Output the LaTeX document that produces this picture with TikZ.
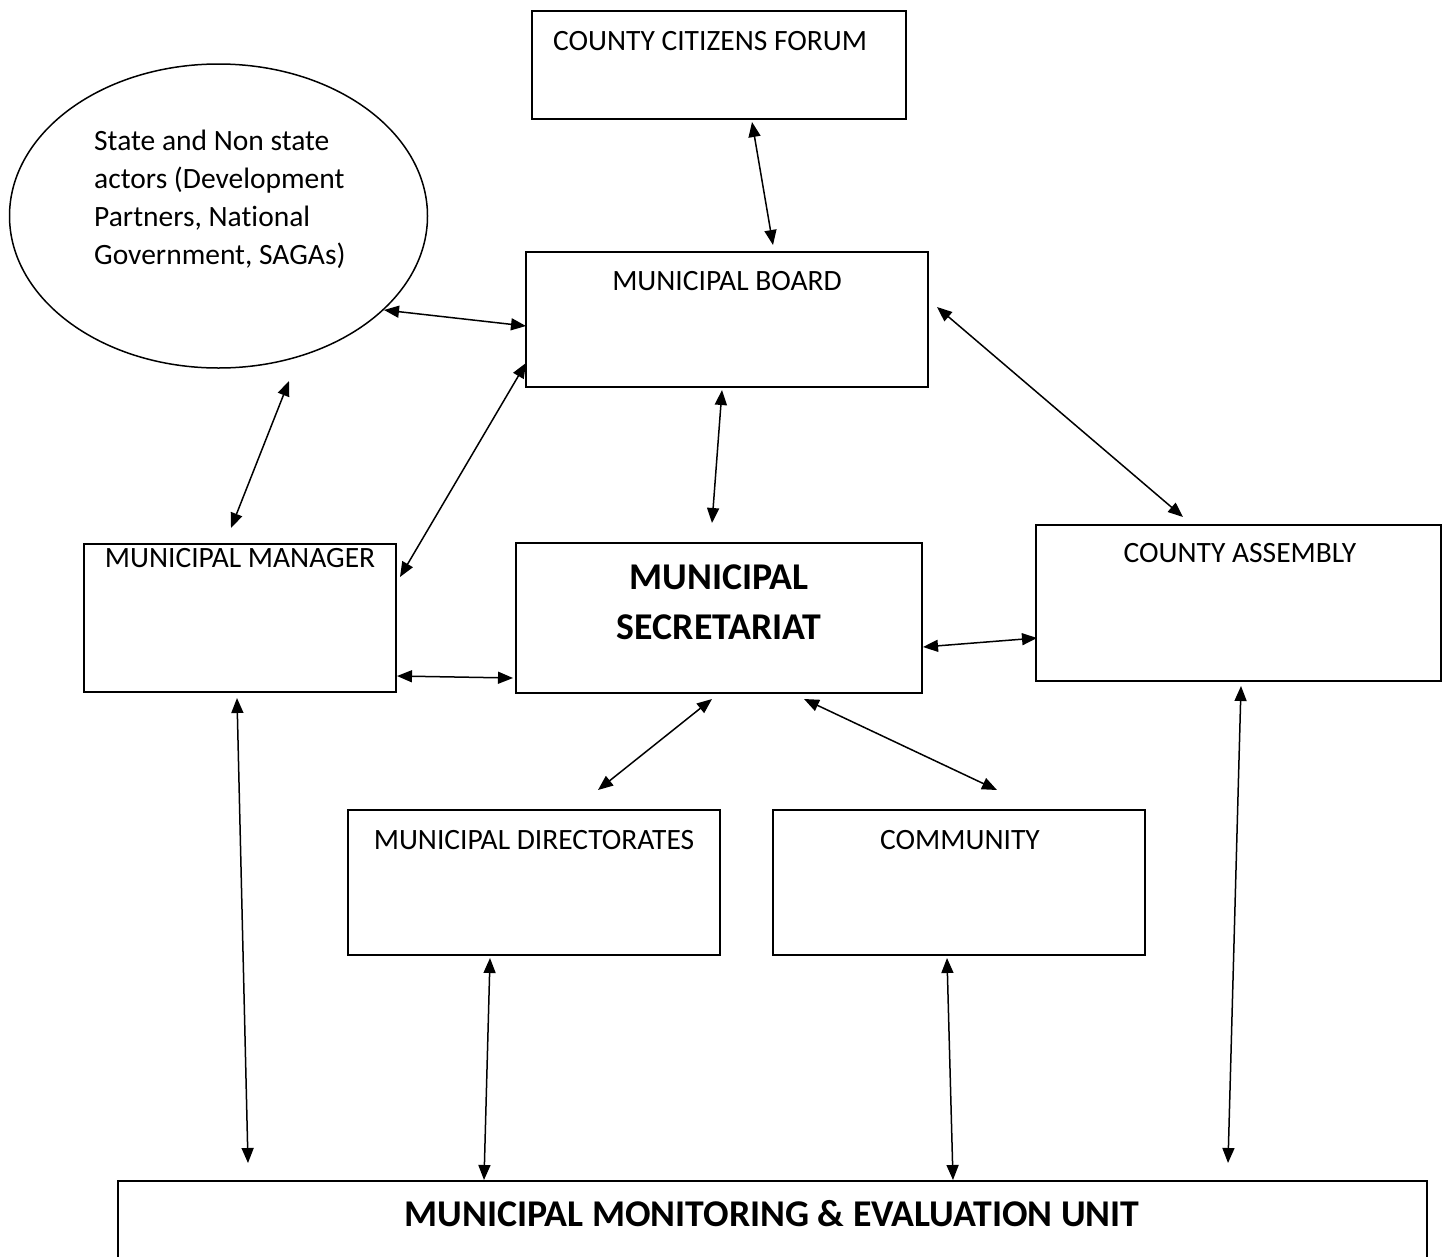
\documentclass[tikz,border=0pt]{standalone}
\usepackage{fontspec}
\setmainfont[Ligatures=NoCommon]{Carlito}
\usetikzlibrary{arrows.meta,shapes.geometric}
\begin{document}
\begin{tikzpicture}[x=1pt,y=-1pt,
  box/.style={draw,line width=1.8pt,rectangle,inner sep=0pt},
  txt/.style={inner sep=0pt,font=\fontsize{29.5}{38}\selectfont},
  btxt/.style={inner sep=0pt,font=\fontsize{37.8}{50}\selectfont\bfseries},
  link/.style={line width=1.5pt,{Triangle[length=15pt,width=12pt]}-{Triangle[length=15pt,width=12pt]}}]
\useasboundingbox (0,0) rectangle (1447,1256);
\clip (0,0) rectangle (1447,1256);
% boxes
\node[box,minimum width=374pt,minimum height=108pt] (ccf) at (719,65) {};
\node[box,minimum width=402pt,minimum height=135pt] (mb) at (727,319.5) {};
\node[box,minimum width=312pt,minimum height=148pt] (mm) at (240,618) {};
\node[box,minimum width=406pt,minimum height=150pt] (ms) at (719,618) {};
\node[box,minimum width=405pt,minimum height=156pt] (ca) at (1238.5,603) {};
\node[box,minimum width=372pt,minimum height=145pt] (md) at (534,882.5) {};
\node[box,minimum width=372pt,minimum height=145pt] (com) at (959,882.5) {};
\node[box,minimum width=1309pt,minimum height=160pt] (me) at (772.5,1261) {};
\node[draw,line width=1.5pt,ellipse,minimum width=418pt,minimum height=304pt,inner sep=0pt] (ell) at (218.5,216) {};
% texts
\node[txt,anchor=west] (ccft) at (553,41) {COUNTY CITIZENS FORUM};
\node[txt] (mbt) at (727,281) {MUNICIPAL BOARD};
\node[txt] (mmt) at (240,558) {MUNICIPAL MANAGER};
\node[txt] (cat) at (1240,553) {COUNTY ASSEMBLY};
\node[txt] (mdt) at (534,840) {MUNICIPAL DIRECTORATES};
\node[txt] (comt) at (960,840) {COMMUNITY};
\node[btxt] (mst1) at (719,577) {MUNICIPAL};
\node[btxt] (mst2) at (719,627) {SECRETARIAT};
\node[btxt] (met) at (772,1213.5) {MUNICIPAL MONITORING \& EVALUATION UNIT};
\node[txt,anchor=base west] (et1) at (94,150) {State and Non state};
\node[txt,anchor=base west] (et2) at (94,188) {actors (Development};
\node[txt,anchor=base west] (et3) at (94,226) {Partners, National};
\node[txt,anchor=base west] (et4) at (94,264) {Government, SAGAs)};
% connector end points
\coordinate (a1) at (752,122);  \coordinate (b1) at (773,245);
\coordinate (a2) at (384,310);  \coordinate (b2) at (526,326);
\coordinate (a3) at (289,381);  \coordinate (b3) at (231,528);
\coordinate (a4) at (400,577);  \coordinate (b4) at (526,363);
\coordinate (a5) at (722,390);  \coordinate (b5) at (712,523);
\coordinate (a6) at (937,307);  \coordinate (b6) at (1183,517);
\coordinate (a7) at (397,676);  \coordinate (b7) at (513,678);
\coordinate (a8) at (923,647);  \coordinate (b8) at (1037,638);
\coordinate (a9) at (712,699);  \coordinate (b9) at (598,790);
\coordinate (a10) at (804,699); \coordinate (b10) at (997,790);
\coordinate (a11) at (237,698); \coordinate (b11) at (248,1163);
\coordinate (a12) at (490,958); \coordinate (b12) at (484,1180);
\coordinate (a13) at (947,958); \coordinate (b13) at (953,1180);
\coordinate (a14) at (1241,686); \coordinate (b14) at (1228,1163);
\foreach \i in {1,...,14} {\draw[link] (a\i) -- (b\i);}
\end{tikzpicture}
\end{document}
